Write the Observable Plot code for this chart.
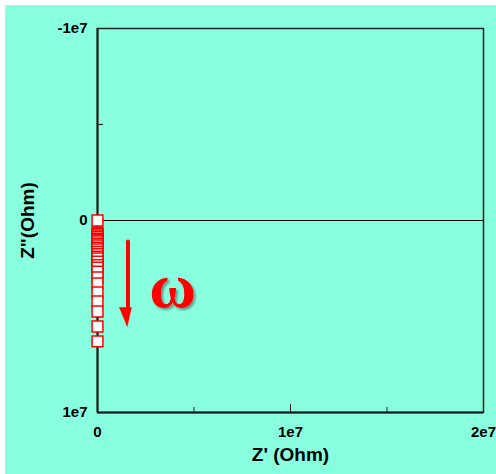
<!DOCTYPE html>
<html><head><meta charset="utf-8">
<script src="https://cdn.jsdelivr.net/npm/d3@7"></script>
<script src="https://cdn.jsdelivr.net/npm/@observablehq/plot@0.6"></script>
<style>
html,body{margin:0;padding:0;background:#fff;}
#wrap{position:relative;width:496px;height:474px;overflow:hidden;}
#bg{position:absolute;left:5px;top:5px;right:0;bottom:0;background:#88ffde;}
#chart{position:absolute;left:0;top:0;}
</style></head><body>
<div id="wrap"><div id="bg"></div><div id="chart"></div></div>
<script>
// Impedance data (Nyquist): Z' and Z'' in Ohm
const zImag = [0, 6.3e5, 7.0e5, 7.8e5, 8.6e5, 9.4e5, 1.02e6, 1.09e6, 1.2e6, 1.3e6, 1.41e6, 1.51e6,
  1.64e6, 1.75e6, 1.88e6, 1.98e6, 2.14e6, 2.32e6, 2.45e6, 2.66e6, 2.97e6, 3.28e6, 3.75e6,
  4.22e6, 4.74e6, 5.52e6, 6.30e6];
const zReal = zImag.map(() => 0);

// axis ticks
const xTickValues = [0, 1e7, 2e7];
const xTickLabels = ["0", "1e7", "2e7"];
const xMinorTicks = [5e6, 1.5e7];
const yTickValues = [-1e7, 0, 1e7];
const yTickLabels = ["-1e7", "0", "1e7"];
const yMinorTicks = [-5e6, 5e6];

// annotation (arrow + omega), in data units
const arrowX = [1.58e6, 1.58e6];
const arrowY = [1.09e6, 4.7e6];
const headX = [1.14e6, 1.76e6, 1.54e6, 1.14e6];
const headY = [4.53e6, 4.53e6, 5.52e6, 4.53e6];
const omegaX = [3.89e6];
const omegaY = [3.45e6];
const omegaText = ["ω"];

const points = zImag.map((v, i) => ({re: zReal[i], im: v}));
const shaft = arrowX.map((x, i) => ({x, y: arrowY[i]}));
const head = headX.map((x, i) => ({x, y: headY[i]}));
const omega = omegaText.map((t, i) => ({t, x: omegaX[i], y: omegaY[i]}));
const fmtX = d => xTickLabels[xTickValues.indexOf(d)];
const fmtY = d => yTickLabels[yTickValues.indexOf(d)];

const font = "'Liberation Sans', Arial, sans-serif";
const plot = Plot.plot({
  width: 496, height: 474,
  marginLeft: 97, marginRight: 13, marginTop: 28, marginBottom: 62,
  style: {background: "transparent", fontFamily: font},
  x: {domain: [0, 2e7]},
  y: {domain: [-1e7, 1e7], reverse: true},
  marks: [
    Plot.ruleY([0], {stroke: "#000", strokeWidth: 1}),
    Plot.tickX(xMinorTicks, {x: d => d, stroke: "#222", strokeWidth: 1, insetTop: 379}),
    Plot.tickX([1e7], {x: d => d, stroke: "#222", strokeWidth: 1, insetTop: 376}),
    Plot.tickY(yMinorTicks, {y: d => d, stroke: "#222", strokeWidth: 1.2, insetRight: 380}),
    Plot.frame({stroke: "#222", strokeWidth: 1.5}),
    Plot.ruleX([0], {stroke: "#1a1a1a", strokeWidth: 2}),
    Plot.ruleY([1e7], {stroke: "#1a1a1a", strokeWidth: 2}),
    Plot.axisX({ticks: xTickValues, tickSize: 0, tickPadding: 14, tickFormat: fmtX,
      fontSize: 15, fontWeight: "bold", fill: "#000", label: null}),
    Plot.axisY({ticks: yTickValues, tickSize: 0, tickPadding: 10, tickFormat: fmtY,
      fontSize: 15, fontWeight: "bold", fill: "#000", label: null}),
    Plot.text(["Z' (Ohm)"], {frameAnchor: "bottom", dy: 48, fontSize: 19, fontWeight: "bold", fill: "#000"}),
    Plot.text(['Z"(Ohm)'], {frameAnchor: "left", textAnchor: "middle", dx: -70, rotate: -90,
      fontSize: 19, fontWeight: "bold", fill: "#000"}),
    Plot.dot(points, {x: "re", y: "im", symbol: "square", r: 6.1, fill: "#fff", stroke: "#ff0000", strokeWidth: 1.5}),
    Plot.line(shaft, {x: "x", y: "y", stroke: "#ff0000", strokeWidth: 4}),
    Plot.line(head, {x: "x", y: "y", fill: "#ff0000", stroke: "#ff0000", strokeWidth: 0.5}),
    Plot.text(omega, {x: "x", y: "y", text: "t", fontSize: 64, fontWeight: "bold",
      fontFamily: "'Liberation Serif', 'Times New Roman', serif", fill: "#ff0000"})
  ]
});
// soft drop shadow on the omega glyph
const svg = d3.select(plot);
svg.insert("defs", ":first-child").append("filter").attr("id", "omegaShadow")
  .attr("x", "-20%").attr("y", "-20%").attr("width", "150%").attr("height", "150%")
  .append("feDropShadow").attr("dx", 2).attr("dy", 2).attr("stdDeviation", 1.2)
  .attr("flood-color", "#3a4a46").attr("flood-opacity", 0.55);
svg.selectAll("text").filter(function() { return this.textContent === "ω"; })
  .attr("filter", "url(#omegaShadow)");
document.getElementById("chart").appendChild(plot);
</script>
</body></html>
